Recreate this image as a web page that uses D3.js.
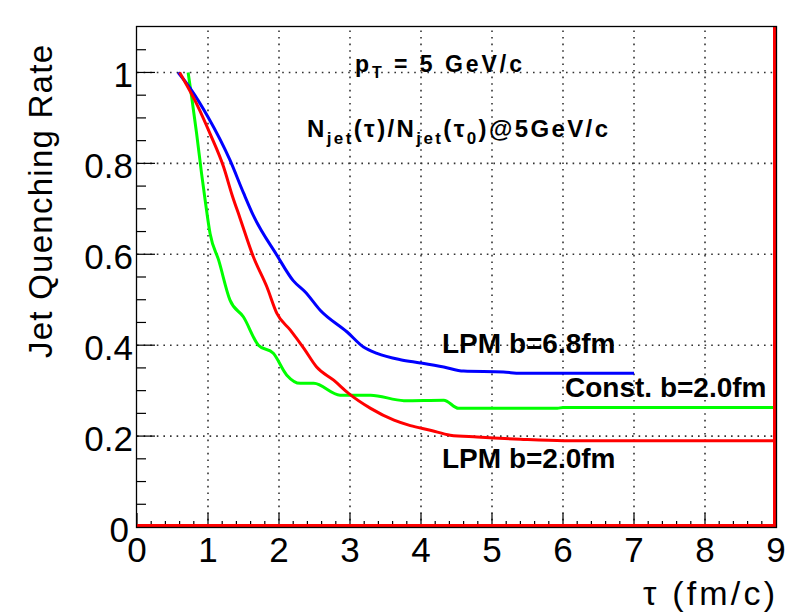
<!DOCTYPE html>
<html><head><meta charset="utf-8">
<script src="https://cdn.jsdelivr.net/npm/d3@7"></script>
<style>body{margin:0;background:#fff}svg{display:block}text{font-family:"Liberation Sans",Arial,Helvetica,sans-serif}</style>
</head><body>
<script>
// ---- data ----
const blueX = [0.58,0.75,1.0,1.31,1.5,1.64,1.97,2.2,2.37,2.58,2.96,3.19,3.38,3.71,3.99,4.32,4.6,5.16,5.4,7.0];
const blueY = [1.0,0.965,0.902,0.807,0.735,0.685,0.598,0.542,0.517,0.477,0.429,0.396,0.382,0.368,0.361,0.352,0.343,0.341,0.338,0.338];
const redX = [0.6,0.84,1.03,1.22,1.34,1.45,1.64,1.83,1.97,2.16,2.35,2.53,2.77,2.98,3.29,3.62,3.85,4.13,4.41,4.79,5.4,6.01,9.0];
const redY = [1.0,0.931,0.865,0.792,0.73,0.68,0.594,0.528,0.47,0.433,0.393,0.352,0.323,0.294,0.261,0.235,0.223,0.213,0.202,0.198,0.193,0.19,0.19];
const greenX = [0.72,0.77,0.84,0.91,0.96,1.03,1.15,1.31,1.5,1.71,1.92,2.11,2.3,2.49,2.86,3.29,3.76,4.32,4.53,5.92,6.0,9.0];
const greenY = [1.0,0.946,0.865,0.777,0.719,0.645,0.587,0.499,0.462,0.4,0.382,0.334,0.316,0.316,0.29,0.29,0.278,0.279,0.261,0.261,0.263,0.263];
const xTicks = [0,1,2,3,4,5,6,7,8,9];
const yTicks = [0,0.2,0.4,0.6,0.8,1];
const yTickLabels = ["0","0.2","0.4","0.6","0.8","1"];
const seriesLabels = ["LPM b=6.8fm","Const. b=2.0fm","LPM b=2.0fm"];

const W=799,H=612;
const svg=d3.select("body").append("svg").attr("width",W).attr("height",H);
const x=d3.scaleLinear().domain([0,9]).range([137,776]);
const y=d3.scaleLinear().domain([0,1.1]).range([527,27]);

// grid
const grid=svg.append("g").attr("stroke","#333").attr("stroke-width",1.6).attr("stroke-dasharray","1.6,5");
grid.selectAll(".gx").data(d3.range(1,9)).join("line")
  .attr("x1",d=>x(d)).attr("x2",d=>x(d)).attr("y1",y(0)).attr("y2",y(1.1));
grid.selectAll(".gy").data([0.2,0.4,0.6,0.8,1.0]).join("line")
  .attr("y1",d=>y(d)).attr("y2",d=>y(d)).attr("x1",x(0)).attr("x2",x(9));

// ticks
const tk=svg.append("g").attr("stroke","#000").attr("stroke-width",1.2);
tk.selectAll(".ym").data(d3.range(0,22).map(i=>i*0.05)).join("line")
  .attr("x1",x(0)).attr("x2",(d,i)=>x(0)+(i%4===0?18:9))
  .attr("y1",d=>y(d)).attr("y2",d=>y(d));
tk.selectAll(".xm").data(d3.range(0,46).map(i=>i*0.2)).join("line")
  .attr("y1",y(0)).attr("y2",(d,i)=>y(0)-(i%5===0?14:6))
  .attr("x1",d=>x(d)).attr("x2",d=>x(d));

// curves
const line=d3.line().curve(d3.curveMonotoneX).x(d=>x(d[0])).y(d=>y(d[1]));
svg.append("clipPath").attr("id","c").append("rect").attr("x",137).attr("y",27).attr("width",639).attr("height",500);
const cg=svg.append("g").attr("clip-path","url(#c)").attr("fill","none").attr("stroke-width",3).attr("stroke-linejoin","round");
cg.append("path").attr("d",line(greenX.map((v,i)=>[v,greenY[i]]))).attr("stroke","#00ff00");
cg.append("path").attr("d",line(blueX.map((v,i)=>[v,blueY[i]]))).attr("stroke","#0000ff");
cg.append("path").attr("d",line(redX.map((v,i)=>[v,redY[i]]))).attr("stroke","#ff0000");
// red histogram outline along bottom & right edge
cg.append("line").attr("x1",x(0)).attr("x2",x(9)).attr("y1",y(0)-1.5).attr("y2",y(0)-1.5).attr("stroke","#ff0000");
cg.append("line").attr("x1",x(9)-1.5).attr("x2",x(9)-1.5).attr("y1",y(0)).attr("y2",y(1.1)).attr("stroke","#ff0000");

// frame
svg.append("rect").attr("x",136.5).attr("y",26.5).attr("width",640).attr("height",501)
  .attr("fill","none").attr("stroke","#000").attr("stroke-width",1.3);

// tick labels
svg.selectAll(".yl").data(yTicks).join("text")
  .attr("x",d=>d===0?129:133).attr("y",d=>y(d)+15).attr("text-anchor","end")
  .attr("font-size",35).text((d,i)=>yTickLabels[i]);
svg.selectAll(".xl").data(xTicks).join("text")
  .attr("x",d=>x(d)).attr("y",562).attr("text-anchor","middle")
  .attr("font-size",35).text(d=>d);

// axis titles
svg.append("text").attr("transform","translate(52,45) rotate(-90)").attr("text-anchor","end")
  .attr("font-size",33).attr("textLength",313).attr("lengthAdjust","spacing").text("Jet Quenching Rate");
svg.append("text").attr("x",643).attr("y",605).attr("font-size",34)
  .attr("textLength",132).attr("lengthAdjust","spacing").text("τ  (fm/c)");

// annotations
const ann=svg.append("g").attr("font-weight","bold");
ann.append("text").attr("x",442).attr("y",353).attr("font-size",28).text(seriesLabels[0]);
ann.append("text").attr("x",565).attr("y",397).attr("font-size",28).text(seriesLabels[1]);
ann.append("text").attr("x",442).attr("y",468).attr("font-size",28).text(seriesLabels[2]);

const t1=ann.append("text").attr("x",355).attr("y",72).attr("font-size",23).attr("textLength",167).attr("lengthAdjust","spacing");
t1.append("tspan").text("p");
t1.append("tspan").attr("font-size",16).attr("dy",6).text("T");
t1.append("tspan").attr("dy",-6).text(" = 5 GeV/c");

const t2=ann.append("text").attr("x",307).attr("y",137).attr("font-size",24).attr("textLength",301).attr("lengthAdjust","spacing");
t2.append("tspan").text("N");
t2.append("tspan").attr("font-size",17).attr("dy",7).text("jet");
t2.append("tspan").attr("dy",-7).text("(τ)/N");
t2.append("tspan").attr("font-size",17).attr("dy",7).text("jet");
t2.append("tspan").attr("dy",-7).text("(τ");
t2.append("tspan").attr("font-size",17).attr("dy",7).text("0");
t2.append("tspan").attr("dy",-7).text(")@5GeV/c");
</script>
</body></html>
